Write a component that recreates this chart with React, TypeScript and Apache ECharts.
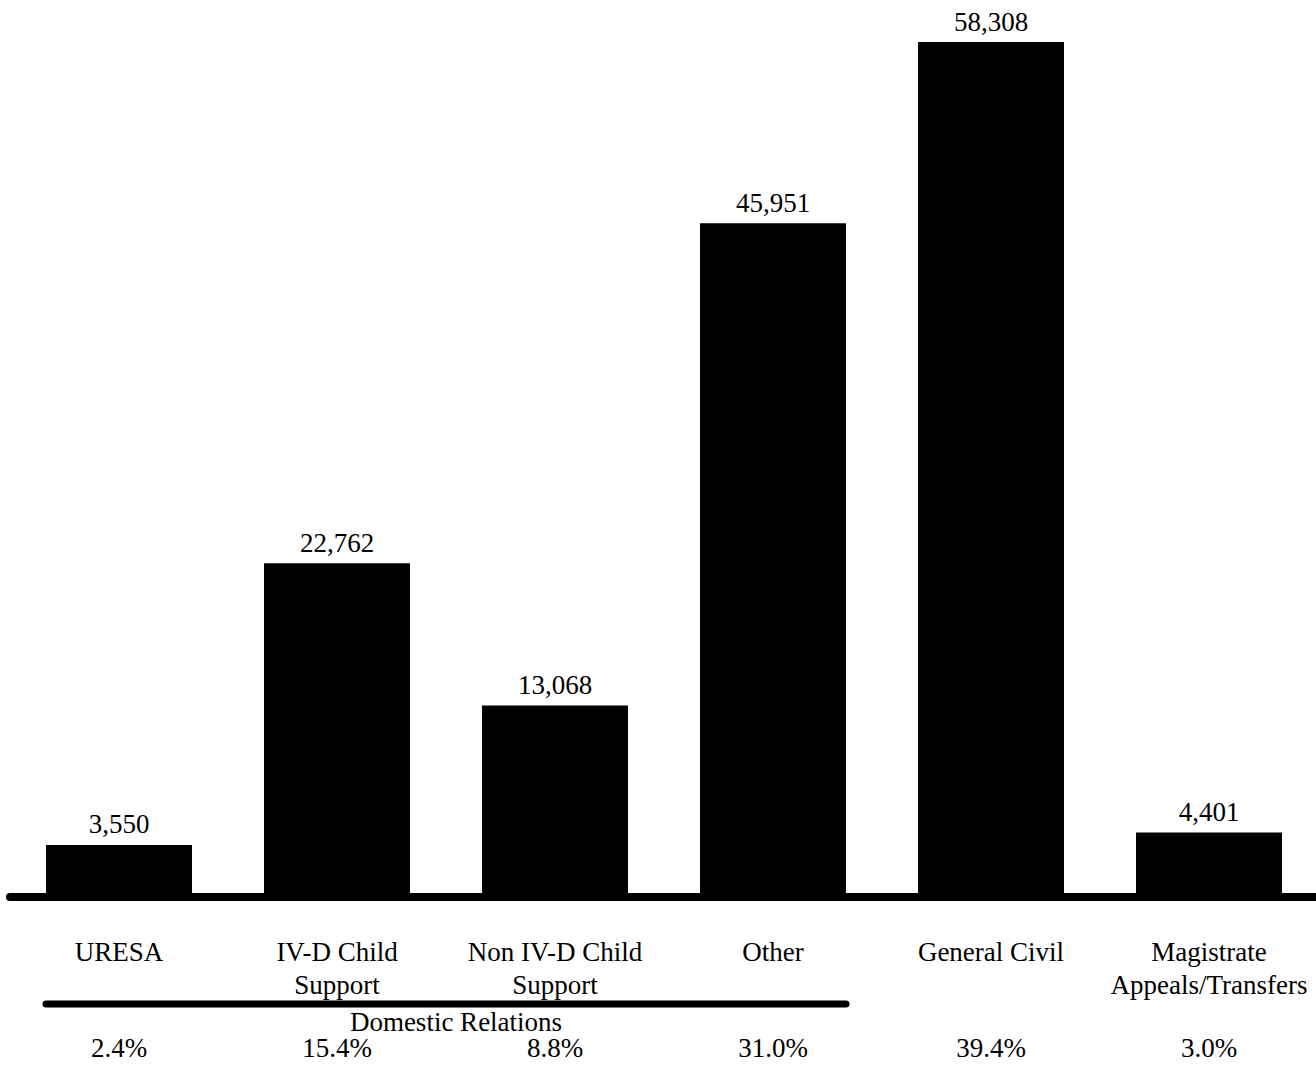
import React, { useEffect, useRef } from "react";
import * as echarts from "echarts";

const categories = [
  "URESA",
  "IV-D Child\nSupport",
  "Non IV-D Child\nSupport",
  "Other",
  "General Civil",
  "Magistrate\nAppeals/Transfers",
];
const caseCounts = [3550, 22762, 13068, 45951, 58308, 4401];
const percentages = ["2.4%", "15.4%", "8.8%", "31.0%", "39.4%", "3.0%"];
const groupLabel = "Domestic Relations";
const groupFirst = 0;
const groupLast = 3;

const FONT = "'Liberation Serif', 'Times New Roman', serif";
const BAR_W = 146;

export default function App() {
  const ref = useRef<HTMLDivElement>(null);
  useEffect(() => {
    const el = ref.current;
    if (!el) return;
    const chart = echarts.init(el, undefined, { renderer: "svg" });
    chart.setOption({
      animation: false,
      backgroundColor: "#ffffff",
      grid: {
        left: 10,
        width: 1308,
        top: 42,
        bottom: 168,
        containLabel: false,
        outerBoundsMode: "none",
      },
      xAxis: [
        {
          type: "category",
          data: categories,
          position: "bottom",
          axisLine: {
            show: true,
            lineStyle: { color: "#000", width: 8, cap: "round" },
          },
          axisTick: { show: false },
          axisLabel: {
            interval: 0,
            hideOverlap: false,
            margin: 38,
            fontFamily: FONT,
            fontSize: 27,
            lineHeight: 33,
            color: "#000",
          },
        },
        {
          type: "category",
          data: percentages,
          position: "bottom",
          offset: 0,
          axisLine: { show: false },
          axisTick: { show: false },
          axisLabel: {
            interval: 0,
            hideOverlap: false,
            margin: 141,
            fontFamily: FONT,
            fontSize: 27,
            lineHeight: 20,
            color: "#000",
          },
        },
      ],
      yAxis: {
        type: "value",
        min: 0,
        max: 58308,
        show: false,
        splitLine: { show: false },
      },
      series: [
        {
          type: "bar",
          data: caseCounts,
          barWidth: BAR_W,
          itemStyle: { color: "#000" },
          label: {
            show: true,
            position: "top",
            distance: 7,
            fontFamily: FONT,
            fontSize: 27,
            lineHeight: 27,
            color: "#000",
            formatter: (p: any) => Number(p.value).toLocaleString("en-US"),
          },
        },
      ],
    });

    const xa = chart.convertToPixel({ xAxisIndex: 0 }, groupFirst) as number;
    const xb = chart.convertToPixel({ xAxisIndex: 0 }, groupLast) as number;
    const x0 = xa - BAR_W / 2;
    const x1 = xb + BAR_W / 2;
    chart.setOption({
      graphic: [
        {
          type: "line",
          shape: { x1: x0, y1: 1004, x2: x1, y2: 1004 },
          style: { stroke: "#000", lineWidth: 7, lineCap: "round" },
        },
        {
          type: "text",
          x: (x0 + x1) / 2 + 10,
          y: 1022,
          style: {
            text: groupLabel,
            fill: "#000",
            font: `27px ${FONT}`,
            lineHeight: 20,
            align: "center",
            verticalAlign: "middle",
          },
        },
      ],
    });

    return () => chart.dispose();
  }, []);
  return (
    <div
      ref={ref}
      style={{ position: "fixed", left: 0, top: 0, width: 1316, height: 1065, background: "#fff" }}
    />
  );
}
